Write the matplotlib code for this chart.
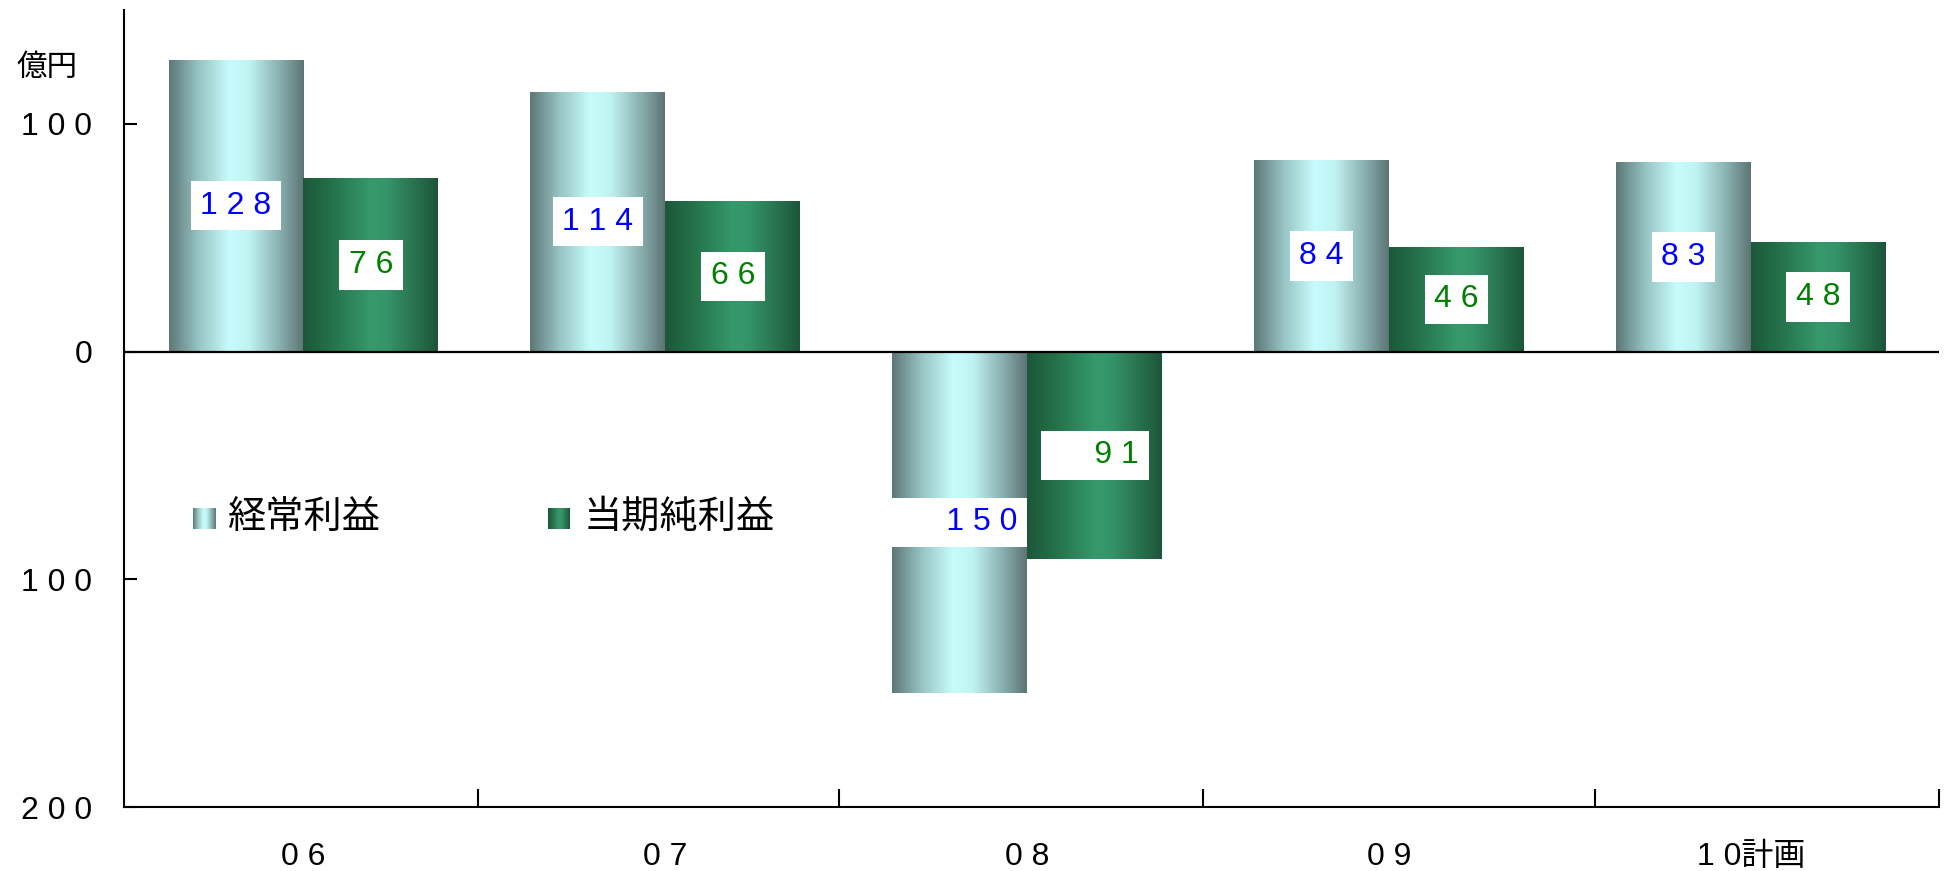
import matplotlib
matplotlib.use("Agg")
import matplotlib.pyplot as plt
import numpy as np
from matplotlib.colors import LinearSegmentedColormap

# 億円, fiscal years
years = ["06", "07", "08", "09", "10計画"]
ordinary_profit = [128, 114, -150, 84, 83]
net_profit = [76, 66, -91, 46, 48]
series_names = ["経常利益", "当期純利益"]
y_ticks = [100, 0, -100, -200]

plt.rcParams['font.family'] = ['Liberation Sans', 'Noto Sans CJK JP']

# cylinder-like horizontal shading for each series
cyan_cmap = LinearSegmentedColormap.from_list(
    "cyan_cyl", [(0.0, "#5d7777"), (0.22, "#98c4c4"), (0.45, "#c8fcfc"),
                 (0.6, "#c0f2f2"), (0.82, "#8ab0b0"), (1.0, "#5d7474")])
green_cmap = LinearSegmentedColormap.from_list(
    "green_cyl", [(0.0, "#1c573a"), (0.2, "#247048"), (0.5, "#36996b"),
                  (0.62, "#35956a"), (0.85, "#276f4c"), (1.0, "#1c553a")])
shade = np.linspace(0, 1, 256).reshape(1, -1)


def spaced(s):
    # digits are drawn with wide letter spacing
    out = ""
    for i, ch in enumerate(s):
        out += ch
        if ch.isdigit() and i + 1 < len(s) and s[i + 1].isdigit():
            out += " "
    return out


fig = plt.figure(figsize=(19.5, 8.71), dpi=100)
ax = fig.add_axes([124 / 1950, 1 - 807 / 871, 1815 / 1950, 797 / 871])

bar_w = 0.373
x = np.arange(len(years))

for xi, v1, v2 in zip(x, ordinary_profit, net_profit):
    for x0, v, cmap, color in [(xi - bar_w, v1, cyan_cmap, "#0000ff"),
                               (xi, v2, green_cmap, "#008000")]:
        ax.imshow(shade, cmap=cmap, extent=(x0, x0 + bar_w, min(0, v), max(0, v)),
                  aspect='auto', interpolation='bicubic', zorder=2)
        label = spaced(str(abs(v)))
        if v < 0:
            label = "     " + label
        ax.text(x0 + bar_w / 2, v / 2, label, ha='center', va='center',
                fontsize=23, color=color, zorder=4,
                bbox=dict(boxstyle='square,pad=0.3', fc='white', ec='none'))

ax.axhline(0, color='black', lw=1.6, zorder=3)

ax.set_xlim(-0.496, 4.52)
ax.set_ylim(-200, 150)
ax.set_aspect('auto')

for side in ['top', 'right']:
    ax.spines[side].set_visible(False)
for side in ['left', 'bottom']:
    ax.spines[side].set_linewidth(1.5)

ax.set_yticks(y_ticks)
ax.set_yticklabels([spaced(str(abs(t))) for t in y_ticks])
ax.tick_params(axis='y', direction='in', length=9, width=1.5, pad=23, labelsize=23)

ax.set_xticks(x)
ax.set_xticklabels([spaced(y) for y in years])
ax.set_xticks([0.482, 1.481, 2.485, 3.569, 4.52], minor=True)
ax.tick_params(axis='x', which='major', length=0, pad=25, labelsize=23)
ax.tick_params(axis='x', which='minor', direction='in', length=13, width=1.5)

fig.text(47 / 1950, 1 - 67 / 871, "億円", ha='center', va='center', fontsize=22,
         family=['Noto Sans CJK JP'])

# legend: gradient swatch + label
legend_items = [(193, 227, cyan_cmap), (548, 584, green_cmap)]
for (sx, tx, cmap), name in zip(legend_items, series_names):
    sw = fig.add_axes([sx / 1950, 1 - 529 / 871, 22 / 1950, 21 / 871])
    sw.imshow(shade, cmap=cmap, aspect='auto', interpolation='bicubic')
    sw.axis('off')
    fig.text(tx / 1950, 1 - 517 / 871, name, ha='left', va='center', fontsize=27.5,
             family=['Noto Sans CJK JP'])

fig.savefig("out.png", dpi=100)
